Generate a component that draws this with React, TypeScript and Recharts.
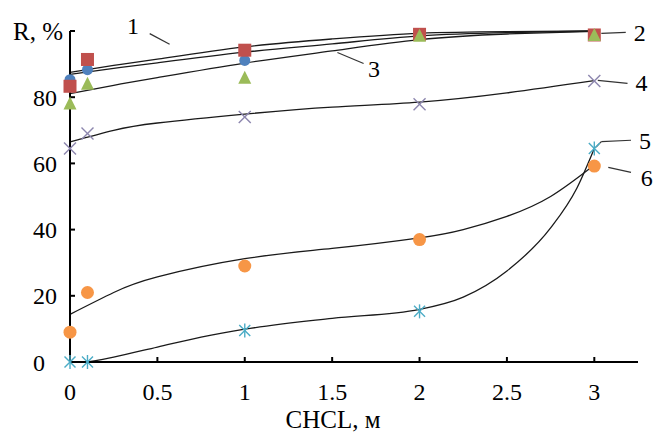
import React from 'react';
import { ComposedChart, Line, Scatter, XAxis, YAxis, ReferenceLine, ReferenceDot, Label } from 'recharts';

// Measured points (CHCL, M vs R, %)
const concentrations = [0, 0.1, 1, 2, 3];
const series1 = [83.3, 91.4, 94.2, 99.0, 98.8]; // red squares
const series2 = [85.3, 88.3, 91.1, 98.8, 98.8]; // blue circles
const series3 = [78.1, 84.1, 85.9, 98.6, 98.8]; // green triangles
const series4 = [64.5, 69.0, 74.0, 77.9, 84.9]; // x marks
const series5 = [0, 0, 9.5, 15.3, 64.5]; // asterisks
const series6 = [9.0, 21.0, 29.0, 37.0, 59.2]; // orange circles

// Trend curves
const trendX = [0, 0.25, 0.5, 1, 1.5, 2, 2.5, 3];
const trend1 = [87.5, 89.6, 91.5, 95.2, 97.6, 99.3, 99.8, 100];
const trend2 = [86.9, 88.7, 90.4, 93.6, 96.1, 98.5, 99.5, 100];
const trend3 = [81.1, 83.6, 85.9, 90.3, 94.0, 97.4, 99.1, 99.9];
const trend4 = [66.5, 70.0, 72.2, 74.9, 77.0, 78.5, 81.3, 85.0];
const trend5X = [0.1, 0.25, 0.5, 0.75, 1, 1.5, 2, 2.25, 2.5, 2.75, 2.9, 3];
const trend5 = [0, 1.5, 4.5, 7.5, 9.9, 13.2, 15.9, 19.6, 27.5, 40.5, 52.5, 64.5];
const trend6X = [0, 0.25, 0.5, 1, 1.5, 2, 2.25, 2.5, 2.75, 3];
const trend6 = [14.4, 21.0, 25.7, 31.2, 34.3, 37.5, 40.0, 44.0, 50.0, 59.5];

// Curve number labels and leader lines
const curveLabels = ['1', '2', '3', '4', '5', '6'];
const labelX = [0.36, 3.26, 1.74, 3.27, 3.29, 3.3];
const labelY = [101.6, 99.6, 88.7, 84.5, 67.0, 55.8];
const leaderSegments: [number, number, number, number][] = [
  [0.456, 99.2, 0.57, 96.0],
  [3.04, 99.3, 3.18, 99.6],
  [1.53, 93.5, 1.68, 90.2],
  [3.02, 85.1, 3.19, 84.2],
  [3.01, 64.9, 3.04, 66.6],
  [3.04, 66.6, 3.21, 67.0],
  [3.08, 58.8, 3.21, 57.3],
];

const xTicks = [0, 0.5, 1, 1.5, 2, 2.5, 3];
const yTicks = [0, 20, 40, 60, 80, 100];

const FONT = '"Liberation Serif", "Times New Roman", serif';

const toPoints = (xs: number[], ys: number[]) => xs.map((x, i) => ({ x, y: ys[i] }));

const SquareShape = (p: any) => (
  <rect x={p.cx - 6.5} y={p.cy - 6.5} width={13} height={13} fill="#C0504D" />
);
const BlueCircle = (p: any) => <circle cx={p.cx} cy={p.cy} r={5.5} fill="#4F81BD" />;
const Triangle = (p: any) => (
  <polygon
    points={`${p.cx},${p.cy - 7} ${p.cx - 6.5},${p.cy + 6} ${p.cx + 6.5},${p.cy + 6}`}
    fill="#9BBB59"
  />
);
const XMark = (p: any) => (
  <g stroke="#8C86AE" strokeWidth={1.4}>
    <line x1={p.cx - 6} y1={p.cy - 6} x2={p.cx + 6} y2={p.cy + 6} />
    <line x1={p.cx - 6} y1={p.cy + 6} x2={p.cx + 6} y2={p.cy - 6} />
  </g>
);
const Asterisk = (p: any) => (
  <g stroke="#4BACC6" strokeWidth={1.4}>
    <line x1={p.cx - 5.5} y1={p.cy - 5.5} x2={p.cx + 5.5} y2={p.cy + 5.5} />
    <line x1={p.cx - 5.5} y1={p.cy + 5.5} x2={p.cx + 5.5} y2={p.cy - 5.5} />
    <line x1={p.cx} y1={p.cy - 7} x2={p.cx} y2={p.cy + 7} />
  </g>
);
const OrangeCircle = (p: any) => <circle cx={p.cx} cy={p.cy} r={6.5} fill="#F79646" />;

const YTick = (props: any) => {
  const { x, y, payload } = props;
  const v = payload.value;
  let text = String(v);
  let dx = 0;
  let size = 24;
  if (v === 100) {
    text = 'R, %';
    dx = 6;
    size = 25;
  } else if (v === 0) {
    dx = -12;
  }
  return (
    <text x={x + dx} y={y} dy="0.355em" textAnchor="end" fontFamily={FONT} fontSize={size} fill="#000">
      {text}
    </text>
  );
};

const trendStyle = { stroke: '#1a1a1a', strokeWidth: 1.3 };

export default function App() {
  return (
    <div style={{ position: 'absolute', left: 0, top: 0, background: '#fff' }}>
      <ComposedChart width={656} height={435} margin={{ top: 31, right: 18, bottom: 0, left: 0 }}>
        <XAxis
          type="number"
          dataKey="x"
          domain={[0, 3.25]}
          ticks={xTicks}
          tickFormatter={(v: number) => String(v)}
          height={73}
          axisLine={{ stroke: '#000', strokeWidth: 2 }}
          tickLine={{ stroke: '#000', strokeWidth: 2 }}
          tickSize={-5}
          tickMargin={26}
          tick={{ fontSize: 24, fill: '#000', fontFamily: FONT }}
        >
          <Label
            content={(p: any) => (
              <text
                x={p.viewBox.x + p.viewBox.width / 2 - 21}
                y={428}
                textAnchor="middle"
                fontFamily={FONT}
                fontSize={25}
                fill="#000"
              >
                CHCL, м
              </text>
            )}
          />
        </XAxis>
        <YAxis
          type="number"
          dataKey="y"
          domain={[0, 100]}
          ticks={yTicks}
          width={70}
          axisLine={{ stroke: '#000', strokeWidth: 2 }}
          tickLine={{ stroke: '#000', strokeWidth: 2 }}
          tickSize={-5}
          tickMargin={18}
          tick={<YTick />}
        />

        <Line data={toPoints(trendX, trend1)} dataKey="y" type="natural" dot={false} activeDot={false} isAnimationActive={false} {...trendStyle} />
        <Line data={toPoints(trendX, trend2)} dataKey="y" type="natural" dot={false} activeDot={false} isAnimationActive={false} {...trendStyle} />
        <Line data={toPoints(trendX, trend3)} dataKey="y" type="natural" dot={false} activeDot={false} isAnimationActive={false} {...trendStyle} />
        <Line data={toPoints(trendX, trend4)} dataKey="y" type="natural" dot={false} activeDot={false} isAnimationActive={false} {...trendStyle} />
        <Line data={toPoints(trend5X, trend5)} dataKey="y" type="monotone" dot={false} activeDot={false} isAnimationActive={false} {...trendStyle} />
        <Line data={toPoints(trend6X, trend6)} dataKey="y" type="natural" dot={false} activeDot={false} isAnimationActive={false} {...trendStyle} />

        <Scatter data={toPoints(concentrations, series4)} dataKey="y" shape={XMark} isAnimationActive={false} />
        <Scatter data={toPoints(concentrations, series5)} dataKey="y" shape={Asterisk} isAnimationActive={false} />
        <Scatter data={toPoints(concentrations, series6)} dataKey="y" shape={OrangeCircle} isAnimationActive={false} />
        <Scatter data={toPoints(concentrations, series2)} dataKey="y" shape={BlueCircle} isAnimationActive={false} />
        <Scatter data={toPoints(concentrations, series1)} dataKey="y" shape={SquareShape} isAnimationActive={false} />
        <Scatter data={toPoints(concentrations, series3)} dataKey="y" shape={Triangle} isAnimationActive={false} />

        {leaderSegments.map((s, i) => (
          <ReferenceLine
            key={`seg-${i}`}
            segment={[
              { x: s[0], y: s[1] },
              { x: s[2], y: s[3] },
            ]}
            stroke="#333"
            strokeWidth={1.2}
            ifOverflow="visible"
          />
        ))}
        {curveLabels.map((t, i) => (
          <ReferenceDot
            key={`lbl-${i}`}
            x={labelX[i]}
            y={labelY[i]}
            r={0}
            fill="none"
            stroke="none"
            ifOverflow="visible"
            label={{ value: t, position: 'center', fontSize: 24, fill: '#000', fontFamily: FONT }}
          />
        ))}
      </ComposedChart>
    </div>
  );
}
